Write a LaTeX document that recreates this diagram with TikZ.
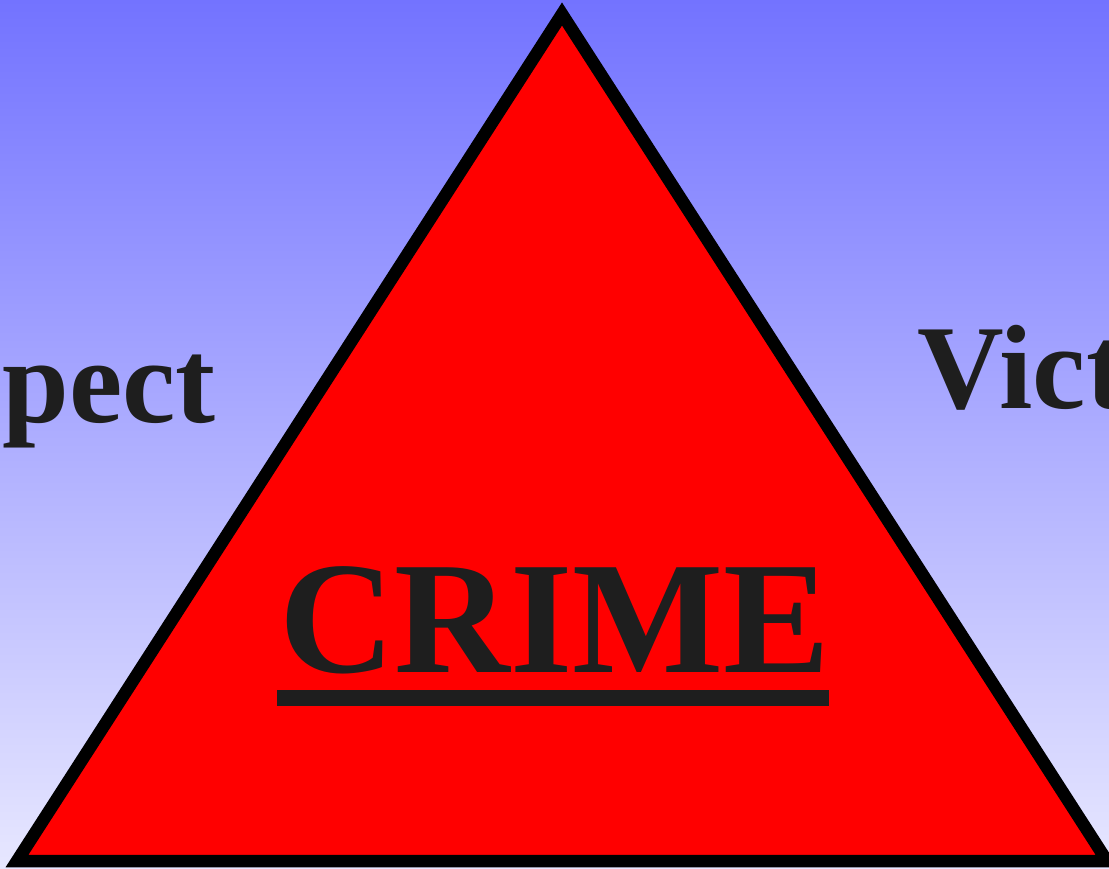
\documentclass[tikz,border=0pt]{standalone}
\usepackage{fontspec}
\setmainfont{Liberation Serif}
\definecolor{txt}{HTML}{1E1E1E}
\definecolor{bgtop}{RGB}{115,115,255}
\definecolor{bgbot}{RGB}{231,231,255}
\begin{document}
\begin{tikzpicture}[x=1pt,y=-1pt,
  sidelabel/.style={inner sep=0pt, text=txt, font=\fontsize{120}{120}\selectfont\bfseries},
  crimelabel/.style={inner sep=0pt, text=txt, font=\fontsize{160}{160}\selectfont\bfseries},
  crimetri/.style={line width=12.5pt, draw=black, fill=red, line join=miter}]
\useasboundingbox (0,0) rectangle (1109,868);
\clip (0,0) rectangle (1109,868);
\shade[top color=bgtop, bottom color=bgbot] (0,0) rectangle (1109,868);
\node[sidelabel, anchor=base east] (suspect) at (216,422) {Suspect};
\node[sidelabel, anchor=base west] (victim) at (917,408) {Victim};
\draw[crimetri] (562,14) -- (1107,861) -- (17,861) -- cycle;
\node[crimelabel, anchor=base] (crime) at (555,672) {CRIME};
\fill[txt] (277,690) rectangle (829,706);
\end{tikzpicture}
\end{document}
